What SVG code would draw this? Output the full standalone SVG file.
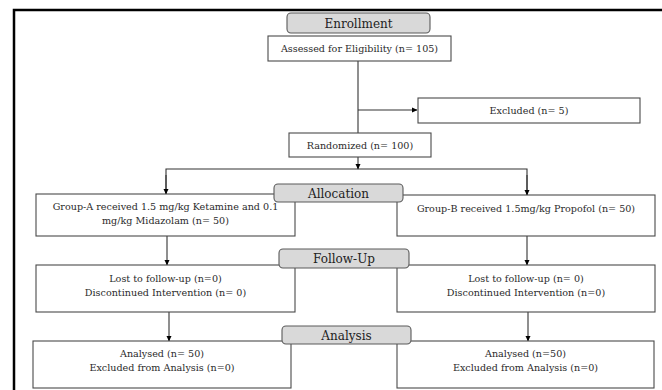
<svg xmlns="http://www.w3.org/2000/svg" width="662" height="390" viewBox="0 0 662 390">
<defs>
<marker id="ah" markerWidth="6" markerHeight="6" refX="5" refY="3" orient="auto" markerUnits="userSpaceOnUse">
<path d="M0,0.5 L5.5,3 L0,5.5 Z" fill="#000"/>
</marker>
<style>
.box{fill:#fff;stroke:#4a4a4a;stroke-width:1.1}
.hdr{fill:#d9d9d9;stroke:#5a5a5a;stroke-width:1.1}
.t{font-family:"DejaVu Serif","Liberation Serif",serif;font-size:9.6px;fill:#2a2a2a;text-anchor:middle}
.h{font-family:"DejaVu Serif","Liberation Serif",serif;font-size:12px;fill:#222;text-anchor:middle}
.c{fill:none;stroke:#333;stroke-width:1.1}
</style>
</defs>
<rect width="662" height="390" fill="#fff"/>
<path d="M14,390 V10 H662" fill="none" stroke="#000" stroke-width="2.5"/>
<g id="connectors">
<path class="c" d="M358,61 V133"/>
<path class="c" d="M358,110 H417" marker-end="url(#ah)"/>
<path class="c" d="M358,157 V169" marker-end="url(#ah)"/>
<path class="c" d="M166,194 V169 H527 V195"/>
<path class="c" d="M166,175 V194" marker-end="url(#ah)"/>
<path class="c" d="M527,175 V195" marker-end="url(#ah)"/>
<path class="c" d="M167,236 V265" marker-end="url(#ah)"/>
<path class="c" d="M527,236 V265" marker-end="url(#ah)"/>
<path class="c" d="M169,312 V341" marker-end="url(#ah)"/>
<path class="c" d="M528,312 V341" marker-end="url(#ah)"/>
</g>
<g id="assessed"><rect class="box" x="268" y="36" width="183" height="25"/><text class="t" x="359.5" y="52">Assessed for Eligibility (n= 105)</text></g>
<g id="excluded"><rect class="box" x="418" y="98" width="222" height="25"/><text class="t" x="529" y="114">Excluded (n= 5)</text></g>
<g id="randomized"><rect class="box" x="289" y="133" width="142" height="24"/><text class="t" x="360" y="148.5">Randomized (n= 100)</text></g>
<g id="groupA"><rect class="box" x="36" y="194" width="259" height="42"/><text class="t" x="165.5" y="210">Group-A received 1.5 mg/kg Ketamine and 0.1</text><text class="t" x="165.5" y="224">mg/kg Midazolam (n= 50)</text></g>
<g id="groupB"><rect class="box" x="397" y="195" width="258" height="41"/><text class="t" x="526" y="212">Group-B received 1.5mg/kg Propofol  (n= 50)</text></g>
<g id="followA"><rect class="box" x="36" y="265" width="259" height="47"/><text class="t" x="165.5" y="282">Lost to follow-up (n=0)</text><text class="t" x="165.5" y="296">Discontinued Intervention (n= 0)</text></g>
<g id="followB"><rect class="box" x="397" y="265" width="258" height="47"/><text class="t" x="526" y="282">Lost to follow-up (n= 0)</text><text class="t" x="526" y="296">Discontinued Intervention (n=0)</text></g>
<g id="analysisA"><rect class="box" x="33" y="341" width="258" height="47"/><text class="t" x="162" y="357">Analysed (n= 50)</text><text class="t" x="162" y="371">Excluded from Analysis (n=0)</text></g>
<g id="analysisB"><rect class="box" x="397" y="341" width="257" height="47"/><text class="t" x="525.5" y="357">Analysed (n=50)</text><text class="t" x="525.5" y="371">Excluded from Analysis (n=0)</text></g>
<g id="enrollment"><rect class="hdr" x="287" y="13" width="143" height="20" rx="4"/><text class="h" x="358.5" y="27.5">Enrollment</text></g>
<g id="allocation"><rect class="hdr" x="274" y="184" width="129" height="18" rx="4"/><text class="h" x="338.5" y="197.5">Allocation</text></g>
<g id="followup"><rect class="hdr" x="279" y="249" width="130" height="19" rx="4"/><text class="h" x="344" y="262.5">Follow-Up</text></g>
<g id="analysis"><rect class="hdr" x="282" y="326" width="129" height="18" rx="4"/><text class="h" x="346.5" y="339.5">Analysis</text></g>
</svg>
